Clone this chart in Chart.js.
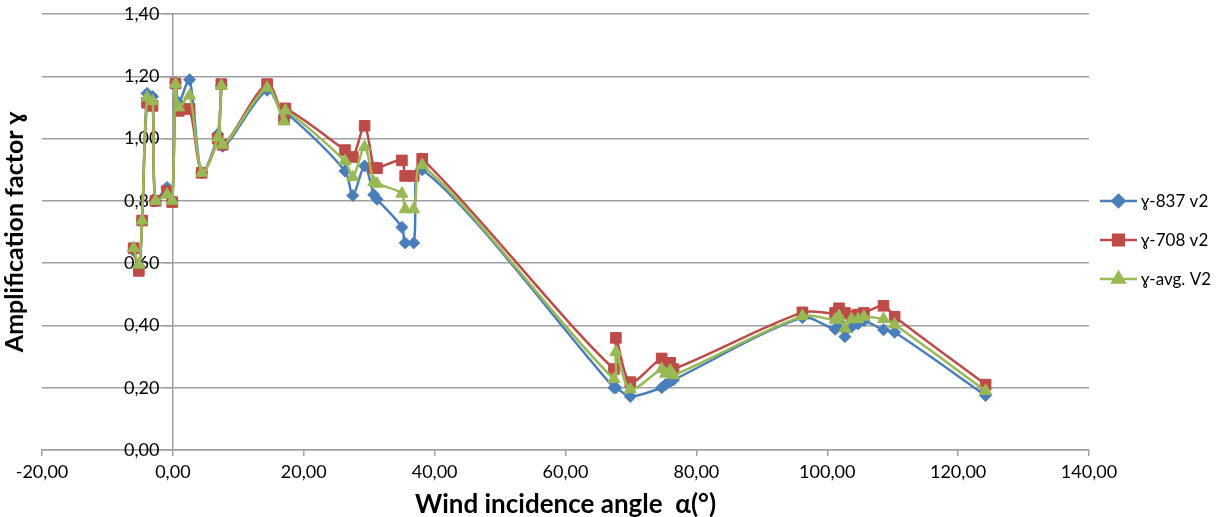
<!DOCTYPE html>
<html lang="en">
<head>
<meta charset="UTF-8">
<title>Amplification factor vs wind incidence angle</title>
<script src="https://cdn.jsdelivr.net/npm/chart.js"></script>
<style>
    html, body { margin: 0; padding: 0; background: #fff; }
    #chartBox { width: 1221px; height: 517px; position: relative; }
</style>
</head>
<body>
<div id="chartBox"><canvas id="ampChart"></canvas></div>
<script>
// wind incidence angle (deg), same for every series
const angles = [-6.0, -5.2, -4.7, -3.95, -3.1, -2.65, -0.9, -0.1, 0.4, 0.9, 2.55, 4.4,
    6.85, 7.4, 7.6, 14.4, 17.0, 17.2, 26.3, 27.5, 29.3, 30.7, 31.2, 35.0, 35.5, 36.8, 38.1,
    67.4, 67.7, 69.9, 74.7, 75.3, 76.0, 76.5, 96.2, 101.2, 101.8, 102.7, 103.7, 104.7,
    105.6, 108.6, 110.3, 124.2];

const gamma837 = [0.64, 0.59, 0.735, 1.145, 1.135, 0.80, 0.843, 0.80, 1.18, 1.115, 1.189, 0.89,
    1.014, 1.17, 0.975, 1.155, 1.065, 1.085, 0.896, 0.817, 0.912, 0.82, 0.805, 0.715, 0.665, 0.665, 0.90,
    0.20, 0.20, 0.172, 0.20, 0.21, 0.22, 0.225, 0.425, 0.388, 0.41, 0.364, 0.395, 0.405,
    0.415, 0.386, 0.378, 0.175];

const gamma708 = [0.648, 0.575, 0.737, 1.115, 1.105, 0.80, 0.831, 0.796, 1.177, 1.089, 1.095, 0.89,
    1.0, 1.175, 0.98, 1.175, 1.062, 1.097, 0.963, 0.941, 1.041, 0.906, 0.905, 0.930, 0.88, 0.88, 0.935,
    0.26, 0.36, 0.218, 0.294, 0.265, 0.28, 0.26, 0.442, 0.44, 0.455, 0.44, 0.43, 0.435,
    0.44, 0.463, 0.428, 0.21];

const gammaAvg = [0.648, 0.595, 0.737, 1.132, 1.12, 0.80, 0.82, 0.80, 1.175, 1.10, 1.138, 0.89,
    1.003, 1.17, 0.98, 1.163, 1.055, 1.09, 0.928, 0.876, 0.973, 0.86, 0.855, 0.823, 0.773, 0.773, 0.915,
    0.228, 0.315, 0.195, 0.26, 0.245, 0.255, 0.24, 0.43, 0.418, 0.43, 0.39, 0.42, 0.42,
    0.428, 0.42, 0.403, 0.19];

const seriesNames = ['ɣ-837 v2', 'ɣ-708 v2', 'ɣ-avg. V2'];

const colors = ['#4a7ebb', '#be4b48', '#98b954'];
const markers = ['rectRot', 'rect', 'triangle'];
const markerSizes = [6, 7.5, 7];

const fmt = v => Number(v).toFixed(2).replace('.', ',');
const toPoints = ys => angles.map((a, i) => ({ x: a, y: ys[i] }));

function makeDataset(idx, values) {
    return {
        label: seriesNames[idx],
        data: toPoints(values),
        showLine: true,
        borderColor: colors[idx],
        backgroundColor: colors[idx],
        borderWidth: 2.5,
        tension: 0.3,
        pointStyle: markers[idx],
        pointRadius: markerSizes[idx],
        pointBorderWidth: 1,
        pointBackgroundColor: colors[idx],
        pointBorderColor: colors[idx],
        order: 3 - idx
    };
}

// legend drawn like the spreadsheet one: short line with the marker on it
const lineLegend = {
    id: 'lineLegend',
    afterDraw(chart) {
        const ctx = chart.ctx;
        const area = chart.chartArea;
        const midY = (area.top + area.bottom) / 2 + 8;
        const x0 = area.right + 11;
        ctx.save();
        chart.data.datasets.forEach((ds, i) => {
            const y = midY + (i - 1) * 39;
            ctx.strokeStyle = ds.borderColor;
            ctx.lineWidth = 2.5;
            ctx.beginPath();
            ctx.moveTo(x0, y);
            ctx.lineTo(x0 + 37, y);
            ctx.stroke();
            ctx.fillStyle = ds.pointBackgroundColor;
            Chart.helpers.drawPoint(ctx, {
                pointStyle: ds.pointStyle,
                radius: ds.pointRadius,
                rotation: 0,
                borderWidth: 1
            }, x0 + 18.5, y);
            ctx.fillStyle = '#000';
            ctx.font = '17px Lato';
            ctx.textBaseline = 'middle';
            ctx.fillText(ds.label, x0 + 41, y + 1);
        });
        ctx.restore();
    }
};

const gridGray = '#a0a0a0';

new Chart(document.getElementById('ampChart'), {
    type: 'scatter',
    data: {
        datasets: [
            makeDataset(0, gamma837),
            makeDataset(1, gamma708),
            makeDataset(2, gammaAvg)
        ]
    },
    options: {
        responsive: true,
        maintainAspectRatio: false,
        animation: false,
        layout: { autoPadding: false, padding: { left: 0, right: 132, top: 14, bottom: -3.6 } },
        plugins: {
            legend: { display: false },
            tooltip: { enabled: false }
        },
        scales: {
            x: {
                type: 'linear',
                min: -20,
                max: 140,
                ticks: {
                    stepSize: 20,
                    padding: 5.4,
                    color: '#000',
                    font: { family: 'Lato', size: 18 },
                    callback: v => fmt(v)
                },
                grid: {
                    display: true,
                    drawOnChartArea: false,
                    drawTicks: true,
                    tickLength: 6,
                    color: gridGray,
                    lineWidth: 1.5
                },
                border: { color: gridGray, width: 1.5 },
                title: {
                    display: true,
                    text: 'Wind incidence angle  α(°)',
                    color: '#000',
                    font: { family: 'Lato', size: 26, weight: 'bold' },
                    padding: { top: 1, bottom: 0 }
                }
            },
            y: {
                type: 'linear',
                position: { x: 0 },
                min: 0,
                max: 1.4,
                ticks: {
                    stepSize: 0.2,
                    color: '#000',
                    font: { family: 'Lato', size: 18 },
                    // axis sits at x = 0, labels right-aligned on it: keep a gap
                    callback: v => fmt(v) + '\u2003'
                },
                grid: {
                    color: gridGray,
                    lineWidth: 1.5,
                    drawTicks: true,
                    tickLength: 8
                },
                border: { color: gridGray, width: 1.5 }
            },
            yTitle: {
                type: 'linear',
                position: 'left',
                display: true,
                min: 0,
                max: 1,
                ticks: { display: false },
                grid: { display: false, drawTicks: false },
                border: { display: false },
                title: {
                    display: true,
                    text: 'Amplification factor ɣ',
                    color: '#000',
                    font: { family: 'Lato', size: 25, weight: 'bold' },
                    padding: { top: 0, bottom: 12 }
                }
            }
        }
    },
    plugins: [lineLegend]
});
</script>
</body>
</html>
